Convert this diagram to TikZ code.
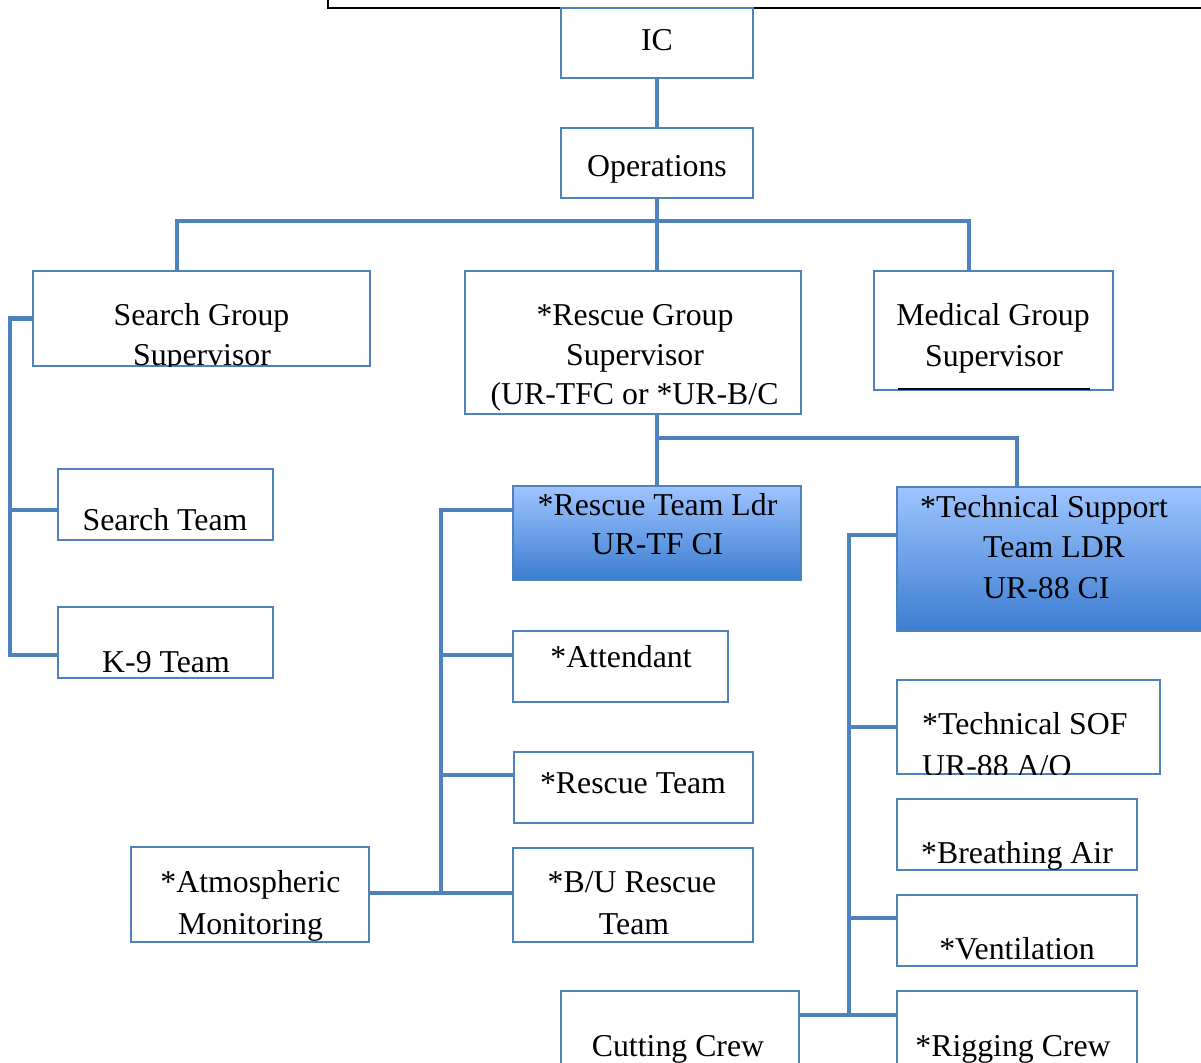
\documentclass[tikz,border=0pt]{standalone}
\usepackage{fontspec}
\setmainfont{Liberation Serif}
\definecolor{ln}{HTML}{4F81BD}
\definecolor{gtop}{HTML}{9EC4FF}
\definecolor{gbot}{HTML}{3C7DD0}
\tikzset{
 box/.style={draw=ln,line width=1.5pt,fill=white,inner sep=0pt,outer sep=0pt,rectangle},
 gbox/.style={box,top color=gtop,bottom color=gbot},
 conn/.style={draw=ln,line width=4.5pt},
 lbl/.style={font=\fontsize{31.8}{40}\selectfont,inner sep=0pt,anchor=base},
 lbll/.style={lbl,anchor=base west}
}
\newcommand\bx[6][box]{\node[#1,minimum width={#4pt-#2pt},minimum height={#5pt-#3pt}] (#6) at ({(#2+#4)/2},{(#3+#5)/2}) {};}
\begin{document}
\begin{tikzpicture}[x=1pt,y=-1pt]
\clip (0,0) rectangle (1201,1062);
\fill[white] (0,0) rectangle (1201,1062);
\draw[line width=2pt] (328,-2) -- (328,8) -- (1205,8);
% boxes
\bx{561}{8}{753}{78}{ic}
\bx{561}{128}{753}{198}{ops}
\bx{33}{271}{370}{366}{sgs}
\bx{465}{271}{801}{414}{rgs}
\bx{874}{271}{1113}{390}{mgs}
\bx{58}{469}{273}{540}{st}
\bx{58}{607}{273}{678}{k9}
\bx[gbox]{513}{486}{801}{580}{rtl}
\bx[gbox]{897}{487}{1215}{631}{tsl}
\bx{513}{631}{728}{702}{att}
\bx{514}{752}{753}{823}{rt}
\bx{513}{848}{753}{942}{bu}
\bx{131}{847}{369}{942}{atm}
\bx{897}{680}{1160}{774}{sof}
\bx{897}{799}{1137}{870}{air}
\bx{897}{895}{1137}{966}{ven}
\bx{561}{991}{799}{1080}{cut}
\bx{897}{991}{1137}{1080}{rig}
% connectors
\draw[conn] (ic.south) -- (ops.north);
\draw[conn] (ops.south) -- (rgs.north -| ops.south);
\draw[conn] (177,0 |- sgs.north) |- (969,221) -- (969,0 |- mgs.north);
\draw[conn] (sgs.west) -- (10,0 |- sgs.west) |- (k9.west |- 0,655);
\draw[conn] (10,510) -- (st.west |- 0,510);
\draw[conn] (657,0 |- rgs.south) -- (657,0 |- rtl.north);
\draw[conn] (657,438) -| (1017,0 |- tsl.north);
\draw[conn] (rtl.west |- 0,510) -| (441,893);
\draw[conn] (441,655) -- (att.west |- 0,655);
\draw[conn] (441,775) -- (rt.west |- 0,775);
\draw[conn] (atm.east |- 0,893) -- (bu.west |- 0,893);
\draw[conn] (tsl.west |- 0,535) -| (849,1015);
\draw[conn] (849,727) -- (sof.west |- 0,727);
\draw[conn] (849,918) -- (ven.west |- 0,918);
\draw[conn] (cut.east |- 0,1015) -- (rig.west |- 0,1015);
\draw[line width=2pt] (898,389) -- (1090,389);
% labels
\node[lbl] (t-ic) at (657,51) {IC};
\node[lbl] (t-ops) at (657,176) {Operations};
\begin{scope}
\clip (sgs.north west) rectangle (sgs.south east);
\node[lbl] (t-sgs1) at (201.5,325) {Search Group};
\node[lbl] (t-sgs2) at (202,365) {Supervisor};
\end{scope}
\node[lbl] (t-rgs1) at (635,325) {*Rescue Group};
\node[lbl] (t-rgs2) at (635,365) {Supervisor};
\node[lbl] (t-rgs3) at (634.5,404) {(UR-TFC or *UR-B/C};
\node[lbl] (t-mgs1) at (993,325) {Medical Group};
\node[lbl] (t-mgs2) at (994,366) {Supervisor};
\node[lbl] (t-st) at (165,530) {Search Team};
\node[lbl] (t-k9) at (166,672) {K-9 Team};
\node[lbl] (t-rtl1) at (657.5,515) {*Rescue Team Ldr};
\node[lbl] (t-rtl2) at (657.5,554) {UR-TF CI};
\node[lbl] (t-tsl1) at (1044,517) {*Technical Support};
\node[lbll] (t-tsl2) at (983,557) {Team LDR};
\node[lbll] (t-tsl3) at (983,598) {UR-88 CI};
\node[lbl] (t-att) at (621,667) {*Attendant};
\node[lbl] (t-rt) at (633,793) {*Rescue Team};
\node[lbl] (t-bu1) at (632,892) {*B/U Rescue};
\node[lbl] (t-bu2) at (634,934) {Team};
\node[lbl] (t-atm1) at (250.5,892) {*Atmospheric};
\node[lbl] (t-atm2) at (250.5,934) {Monitoring};
\begin{scope}
\clip (sof.north west) rectangle (sof.south east);
\node[lbll] (t-sof1) at (922,734) {*Technical SOF};
\node[lbll] (t-sof2) at (922,776) {UR-88 A/O};
\end{scope}
\node[lbl] (t-air) at (1017,863) {*Breathing Air};
\node[lbl] (t-ven) at (1017,959) {*Ventilation};
\node[lbl] (t-cut) at (678,1056) {Cutting Crew};
\node[lbl] (t-rig) at (1013,1056) {*Rigging Crew};
\end{tikzpicture}
\end{document}
